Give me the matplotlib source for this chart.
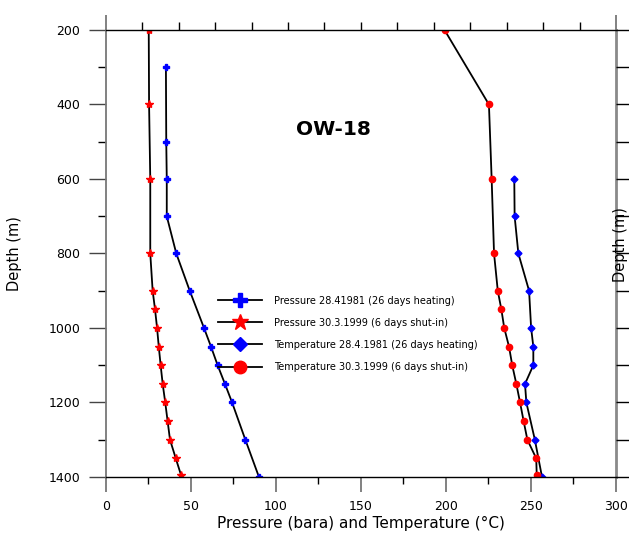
import numpy as np
import matplotlib.pyplot as plt
from matplotlib.ticker import MultipleLocator

# Pressure 28.4.1981 (26 days heating)
p81_depth = [300, 500, 600, 700, 800, 900, 1000, 1050, 1100, 1150, 1200, 1300, 1400]
p81_val = [35.4, 35.6, 35.9, 35.9, 41.5, 49.4, 57.8, 61.9, 65.8, 70.1, 74.3, 82.1, 90.1]

# Pressure 30.3.1999 (6 days shut-in)
p99_depth = [200, 400, 600, 800, 900, 950, 1000, 1050, 1100, 1150, 1200, 1250, 1300, 1350, 1395]
p99_val = [25.3, 25.5, 26.2, 26.2, 27.6, 29.0, 30.2, 31.2, 32.3, 33.5, 35.0, 36.4, 37.8, 41.2, 44.3]

# Temperature 28.4.1981 (26 days heating)
t81_depth = [600, 700, 800, 900, 1000, 1050, 1100, 1150, 1200, 1300, 1400]
t81_val = [240.2, 240.4, 242.6, 248.9, 250.1, 251.4, 251.4, 246.5, 247.3, 252.3, 256.5]

# Temperature 30.3.1999 (6 days shut-in)
t99_depth = [200, 400, 600, 800, 900, 950, 1000, 1050, 1100, 1150, 1200, 1250, 1300, 1350, 1395]
t99_val = [199.2, 225.3, 226.9, 228.3, 230.5, 232.6, 234.3, 237.1, 239.0, 241.4, 243.6, 245.7, 247.9, 253.1, 253.4]

labels = [
    "Pressure 28.41981 (26 days heating)",
    "Pressure 30.3.1999 (6 days shut-in)",
    "Temperature 28.4.1981 (26 days heating)",
    "Temperature 30.3.1999 (6 days shut-in)",
]

plt.rcParams["font.family"] = "DejaVu Sans"

fig = plt.figure(figsize=(6.29, 5.34), dpi=100)
ax = fig.add_axes([105.7 / 629, 1 - 477 / 534, 510.3 / 629, 447 / 534])

line_kw = dict(color="black", lw=1.3)
ax.plot(p81_val, p81_depth, marker="P", ms=5, mfc="blue", mec="blue", label=labels[0], **line_kw)
ax.plot(p99_val, p99_depth, marker="*", ms=6, mfc="red", mec="red", label=labels[1], **line_kw)
ax.plot(t81_val, t81_depth, marker="D", ms=3.5, mfc="blue", mec="blue", label=labels[2], **line_kw)
ax.plot(t99_val, t99_depth, marker="o", ms=4.5, mfc="red", mec="red", label=labels[3], **line_kw)

ax.set_xlim(0, 300)
ax.set_ylim(1400, 200)

ax.xaxis.set_major_locator(MultipleLocator(50))
ax.xaxis.set_minor_locator(MultipleLocator(25))
ax.yaxis.set_major_locator(MultipleLocator(200))
ax.yaxis.set_minor_locator(MultipleLocator(100))

ax.tick_params(axis="x", which="major", direction="out", length=10.8, width=1.3,
               color="#777777", labelsize=9, pad=6)
ax.tick_params(axis="x", which="minor", direction="out", length=5, width=1, color="black")
ax.tick_params(axis="y", which="major", direction="out", length=12.2, width=1,
               color="#444444", labelsize=9, pad=6)
ax.tick_params(axis="y", which="minor", direction="out", length=5.8, width=1, color="black")

for s in ["top", "bottom"]:
    ax.spines[s].set_color("black")
    ax.spines[s].set_linewidth(1)
ax.spines["left"].set_color("#777777")
ax.spines["left"].set_linewidth(1.3)
ax.spines["right"].set_color("#8a8a8a")
ax.spines["right"].set_linewidth(2)

ax.set_xlabel("Pressure (bara) and Temperature (°C)", fontsize=11, labelpad=2)
ax.set_ylabel("Depth (m)", fontsize=10.5)
ax.yaxis.set_label_coords(-0.164, 0.5)

# top axis: unlabeled ticks
axt = ax.twiny()
axt.set_xlim(0, 14)
axt.set_xticks([0, 14])
axt.set_xticks(np.arange(1, 14), minor=True)
axt.tick_params(axis="x", which="major", direction="out", length=10.8, width=1.3,
                color="#777777", labeltop=False)
axt.tick_params(axis="x", which="minor", direction="out", length=5.8, width=1, color="black")
for s in axt.spines.values():
    s.set_visible(False)

# right axis: depth ticks every 100 m
axr = ax.twinx()
axr.set_ylim(1400, 200)
axr.yaxis.set_major_locator(MultipleLocator(100))
axr.tick_params(axis="y", direction="out", length=9.5, width=1, color="black", labelright=False)
axr.set_ylabel("Depth (m)", fontsize=10.5)
axr.yaxis.set_label_coords(0.994, 0.52)
for s in axr.spines.values():
    s.set_visible(False)

ax.text(134, 468, "OW-18", fontsize=14.5, fontweight="bold", ha="center", va="center")

ax.legend(loc="upper left", bbox_to_anchor=(0.22, 0.406), frameon=False, fontsize=7,
          markerscale=2, handlelength=4.5, handletextpad=1.3, labelspacing=1.25,
          borderpad=0, borderaxespad=0)

fig.savefig("out.png", dpi=100)
